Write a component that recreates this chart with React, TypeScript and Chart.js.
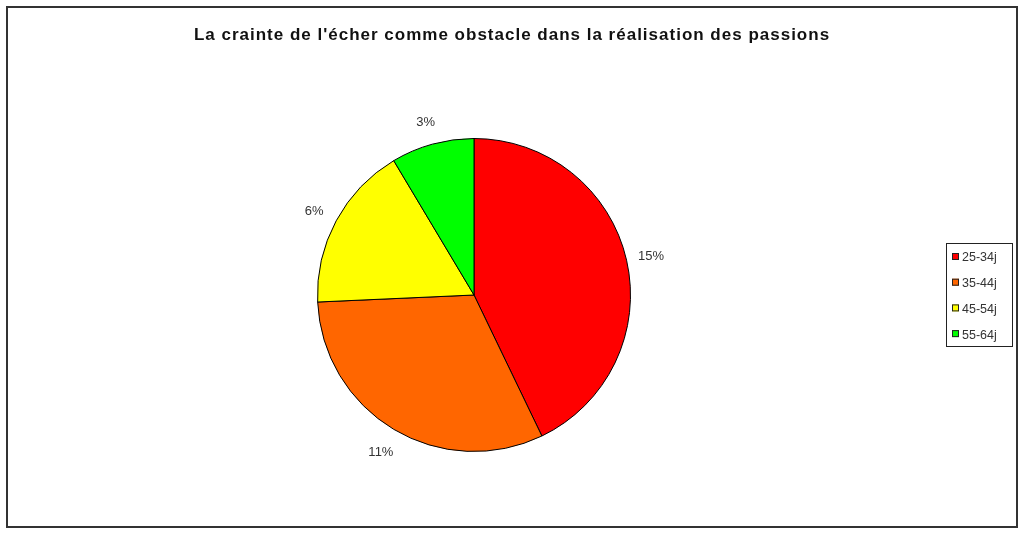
import { useEffect, useRef } from 'react';
import { Chart, registerables } from 'chart.js';

Chart.register(...registerables);

const TITLE = "La crainte de l'écher comme obstacle dans la réalisation des passions";
const ageGroups = ['25-34j', '35-44j', '45-54j', '55-64j'];
const counts = [15, 11, 6, 3];
const sliceColors = ['#ff0000', '#ff6600', '#ffff00', '#00ff00'];

const FONT = '"Liberation Sans", Arial, sans-serif';

// draws title, outside value labels and the boxed legend
const decorations = {
  id: 'decorations',
  afterDraw(chart: Chart) {
    const ctx = chart.ctx as any;
    ctx.save();

    // title
    ctx.fillStyle = '#111';
    ctx.font = `bold 17px ${FONT}`;
    ctx.letterSpacing = '1px';
    ctx.textAlign = 'center';
    ctx.textBaseline = 'middle';
    ctx.fillText(TITLE, 512, 35);
    ctx.letterSpacing = '0px';

    // value labels outside slices
    const meta = chart.getDatasetMeta(0);
    ctx.font = `13px ${FONT}`;
    ctx.fillStyle = '#333';
    meta.data.forEach((el: any, i: number) => {
      const mid = (el.startAngle + el.endAngle) / 2;
      const r = el.outerRadius * 1.16;
      const x = el.x + Math.cos(mid) * r;
      const y = el.y + Math.sin(mid) * r + 2;
      ctx.fillText(`${counts[i]}%`, x, y);
    });

    // legend
    const lx = 946, ly = 243, lw = 66, lh = 103;
    ctx.strokeStyle = '#222';
    ctx.lineWidth = 1;
    ctx.strokeRect(lx + 0.5, ly + 0.5, lw, lh);
    ctx.font = `12.5px ${FONT}`;
    ctx.textAlign = 'left';
    ageGroups.forEach((label, i) => {
      const cy = 257 + i * 25.7;
      ctx.fillStyle = sliceColors[i];
      ctx.fillRect(952, cy - 4, 7, 7);
      ctx.strokeStyle = '#222';
      ctx.strokeRect(952.5, cy - 3.5, 6, 6);
      ctx.fillStyle = '#333';
      ctx.fillText(label, 962, cy + 1);
    });

    ctx.restore();
  },
};

export default function App() {
  const canvasRef = useRef<HTMLCanvasElement>(null);
  const chartRef = useRef<Chart | null>(null);

  useEffect(() => {
    if (!canvasRef.current) return;
    if (chartRef.current) chartRef.current.destroy();

    chartRef.current = new Chart(canvasRef.current, {
      type: 'pie',
      data: {
        labels: ageGroups,
        datasets: [
          {
            data: counts,
            backgroundColor: sliceColors,
            borderColor: '#000',
            borderWidth: 1,
          },
        ],
      },
      options: {
        responsive: false,
        animation: false,
        layout: {
          padding: { left: 317, right: 393, top: 138, bottom: 81 },
        },
        plugins: {
          legend: { display: false },
          tooltip: { enabled: false },
          title: { display: false },
        },
      },
      plugins: [decorations],
    });

    return () => {
      chartRef.current?.destroy();
      chartRef.current = null;
    };
  }, []);

  return (
    <div style={{ position: 'fixed', left: 0, top: 0, width: 1024, height: 533, background: '#fff' }}>
      <div
        style={{
          position: 'absolute',
          left: 6,
          top: 6,
          width: 1008,
          height: 518,
          border: '2px solid #333',
        }}
      />
      <canvas ref={canvasRef} width={1024} height={533} style={{ position: 'absolute', left: 0, top: 0 }} />
    </div>
  );
}
